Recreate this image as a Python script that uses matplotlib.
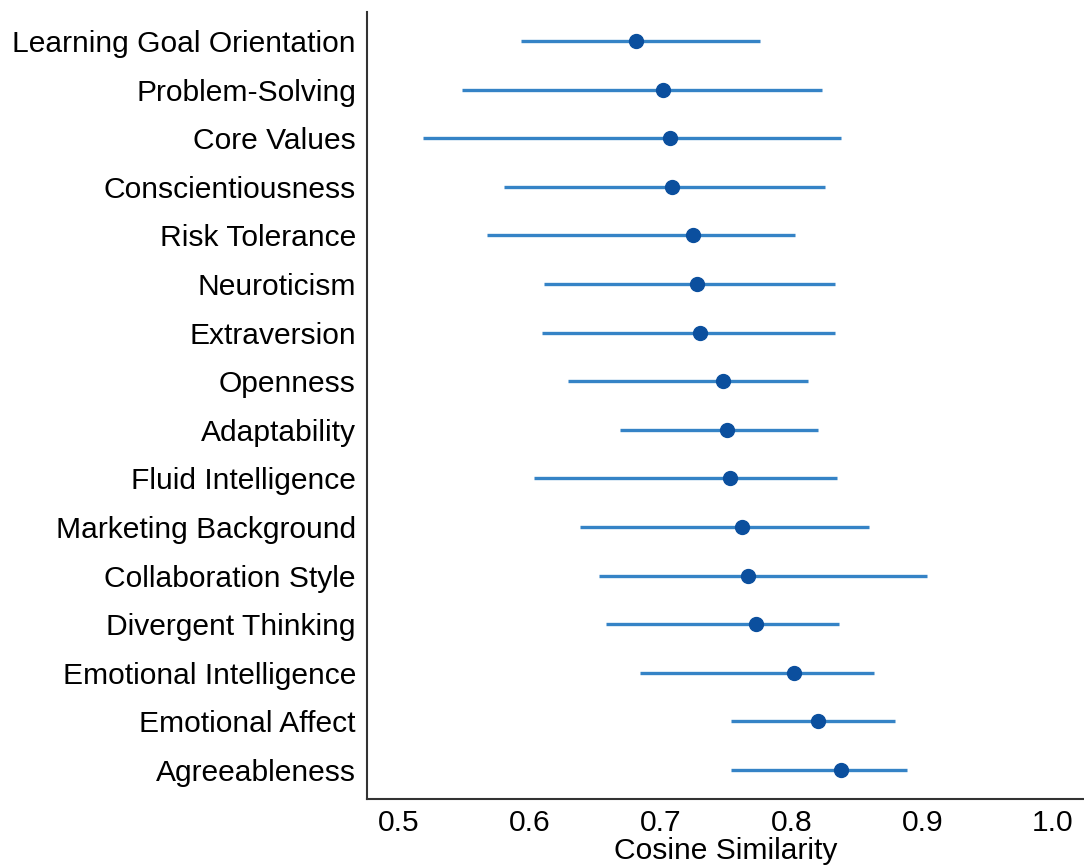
import matplotlib
matplotlib.use("Agg")
import matplotlib.pyplot as plt

categories = ["Learning Goal Orientation", "Problem-Solving", "Core Values", "Conscientiousness",
              "Risk Tolerance", "Neuroticism", "Extraversion", "Openness", "Adaptability",
              "Fluid Intelligence", "Marketing Background", "Collaboration Style",
              "Divergent Thinking", "Emotional Intelligence", "Emotional Affect", "Agreeableness"]
means = [0.681, 0.702, 0.707, 0.709, 0.725, 0.728, 0.730, 0.748, 0.751, 0.753,
         0.762, 0.767, 0.773, 0.802, 0.820, 0.838]
lows = [0.593, 0.548, 0.518, 0.580, 0.567, 0.611, 0.609, 0.629, 0.669, 0.603,
        0.638, 0.653, 0.658, 0.684, 0.754, 0.754]
highs = [0.776, 0.823, 0.838, 0.826, 0.803, 0.833, 0.833, 0.813, 0.820, 0.835,
         0.859, 0.904, 0.836, 0.863, 0.879, 0.888]
xticks = [0.5, 0.6, 0.7, 0.8, 0.9, 1.0]

plt.rcParams['font.family'] = ['Liberation Sans', 'DejaVu Sans']

fig = plt.figure(figsize=(10.84, 8.67), dpi=100)
ax = fig.add_axes([367/1084, 1 - 799/867, (1084-367)/1084, (799-12)/867])

ys = list(range(len(categories)))
for y, lo, hi in zip(ys, lows, highs):
    ax.plot([lo, hi], [y, y], color='#3583c6', lw=2.4, solid_capstyle='butt', zorder=2)
ax.plot(means, ys, 'o', color='#0b4f9e', markersize=10, zorder=3)

ax.set_yticks(ys)
ax.set_yticklabels(categories, fontsize=21.6)
ax.set_xticks(xticks)
ax.set_xticklabels([f"{t:.1f}" for t in xticks], fontsize=21.6)
ax.set_xlim(0.4755, 1.0237)
ax.set_ylim(15.6, -0.6)
ax.tick_params(axis='x', length=0, pad=7)
ax.tick_params(axis='y', length=0, pad=8)
ax.set_xlabel("Cosine Similarity", fontsize=21.6, labelpad=0)
for s in ['top', 'right']:
    ax.spines[s].set_visible(False)
for s in ['left', 'bottom']:
    ax.spines[s].set_color('#333333')
    ax.spines[s].set_linewidth(1.5)

fig.savefig("out.png", dpi=100)
